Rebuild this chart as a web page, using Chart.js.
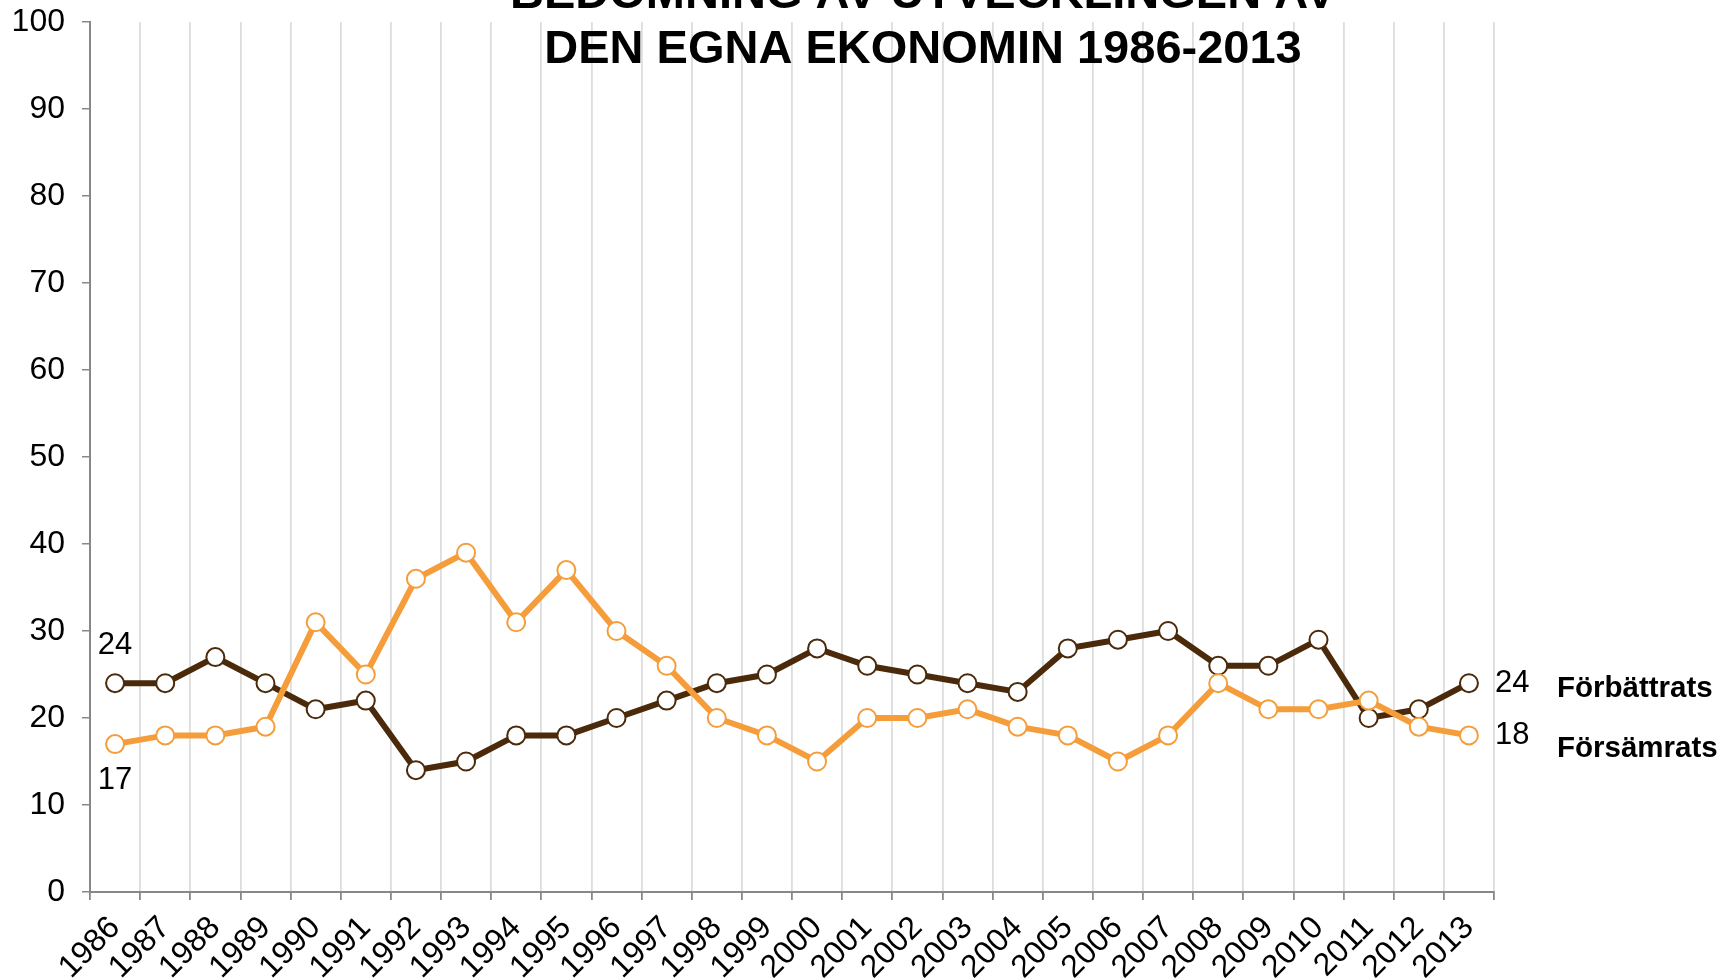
<!DOCTYPE html>
<html lang="sv">
<head>
  <meta charset="UTF-8" />
  <title>Bedömning av utvecklingen av den egna ekonomin 1986-2013</title>
  <script src="https://cdn.jsdelivr.net/npm/chart.js"></script>
  <style>
    html, body {
      margin: 0;
      padding: 0;
      background: #ffffff;
    }
    .wrap {
      width: 1717px;
      height: 980px;
      position: relative;
    }
  </style>
</head>
<body>
  <div class="wrap">
    <canvas id="chart" width="1717" height="980"></canvas>
  </div>

  <script>
    const years = ['1986', '1987', '1988', '1989', '1990', '1991', '1992', '1993', '1994', '1995',
      '1996', '1997', '1998', '1999', '2000', '2001', '2002', '2003', '2004', '2005',
      '2006', '2007', '2008', '2009', '2010', '2011', '2012', '2013'];
    const forbattrats = [24, 24, 27, 24, 21, 22, 14, 15, 18, 18, 20, 22, 24, 25, 28, 26, 25, 24, 23, 28,
      29, 30, 26, 26, 29, 20, 21, 24];
    const forsamrats = [17, 18, 18, 19, 31, 25, 36, 39, 31, 37, 30, 26, 20, 18, 15, 20, 20, 21, 19, 18,
      15, 18, 24, 21, 21, 22, 19, 18];
    const titleLines = ['BEDÖMNING AV UTVECKLINGEN AV', 'DEN EGNA EKONOMIN 1986-2013'];
    const seriesNames = ['Förbättrats', 'Försämrats'];

    const brown = '#4a2a0a';
    const orange = '#f59d3b';
    const fontFamily = '"Liberation Sans", Arial, sans-serif';

    // titel + etiketter ritas direkt på canvasen
    const extras = {
      id: 'extras',
      afterDraw(chart) {
        const ctx = chart.ctx;
        const x = chart.scales.x;
        const y = chart.scales.y;
        const last = years.length - 1;

        ctx.save();
        ctx.fillStyle = '#000';

        ctx.font = 'bold 47px ' + fontFamily;
        ctx.textAlign = 'center';
        ctx.textBaseline = 'alphabetic';
        ctx.fillText(titleLines[0], 923, 8);
        ctx.fillText(titleLines[1], 923, 63);

        ctx.font = '31px ' + fontFamily;
        ctx.textBaseline = 'middle';
        ctx.fillText(forbattrats[0], x.getPixelForValue(0), y.getPixelForValue(forbattrats[0]) - 38);
        ctx.fillText(forsamrats[0], x.getPixelForValue(0), y.getPixelForValue(forsamrats[0]) + 36);

        ctx.textAlign = 'left';
        const xr = x.getPixelForValue(last) + 26;
        ctx.fillText(forbattrats[last], xr, y.getPixelForValue(forbattrats[last]));
        ctx.fillText(forsamrats[last], xr, y.getPixelForValue(forsamrats[last]));

        ctx.font = 'bold 29.5px ' + fontFamily;
        ctx.fillText(seriesNames[0], 1557, y.getPixelForValue(forbattrats[last]) + 6);
        ctx.fillText(seriesNames[1], 1557, y.getPixelForValue(forsamrats[last]) + 13);
        ctx.restore();
      }
    };

    new Chart(document.getElementById('chart'), {
      type: 'line',
      data: {
        labels: years,
        datasets: [
          {
            label: seriesNames[0],
            data: forbattrats,
            borderColor: brown,
            borderWidth: 6,
            pointRadius: 9,
            pointBorderWidth: 2,
            pointBackgroundColor: '#ffffff',
            pointBorderColor: brown,
            tension: 0,
            order: 1
          },
          {
            label: seriesNames[1],
            data: forsamrats,
            borderColor: orange,
            borderWidth: 6,
            pointRadius: 9,
            pointBorderWidth: 2,
            pointBackgroundColor: '#ffffff',
            pointBorderColor: orange,
            tension: 0,
            order: 0
          }
        ]
      },
      options: {
        responsive: false,
        animation: false,
        layout: { padding: { top: 22, right: 223, left: 0, bottom: 0 } },
        plugins: {
          legend: { display: false },
          title: { display: false },
          tooltip: { enabled: false }
        },
        scales: {
          x: {
            offset: true,
            grid: {
              offset: true,
              color: '#dddddd',
              lineWidth: 1.8,
              tickColor: '#888888',
              tickLength: 8
            },
            border: { color: '#888888', width: 2 },
            ticks: {
              color: '#000',
              font: { family: fontFamily, size: 32 },
              maxRotation: 45,
              minRotation: 45,
              autoSkip: false,
              padding: 9
            },
            afterFit(scale) {
              scale.height = 88;
              scale.paddingLeft = 0;
              scale.paddingRight = 0;
            }
          },
          y: {
            min: 0,
            max: 100,
            ticks: {
              stepSize: 10,
              color: '#000',
              font: { family: fontFamily, size: 32 },
              padding: 17
            },
            grid: {
              drawOnChartArea: false,
              color: '#888888',
              tickLength: 8,
              lineWidth: 1.5
            },
            border: { color: '#888888', width: 2 },
            afterFit(scale) {
              scale.width = 90;
              scale.paddingTop = 0;
              scale.paddingBottom = 0;
            }
          }
        }
      },
      plugins: [extras]
    });
  </script>
</body>
</html>
